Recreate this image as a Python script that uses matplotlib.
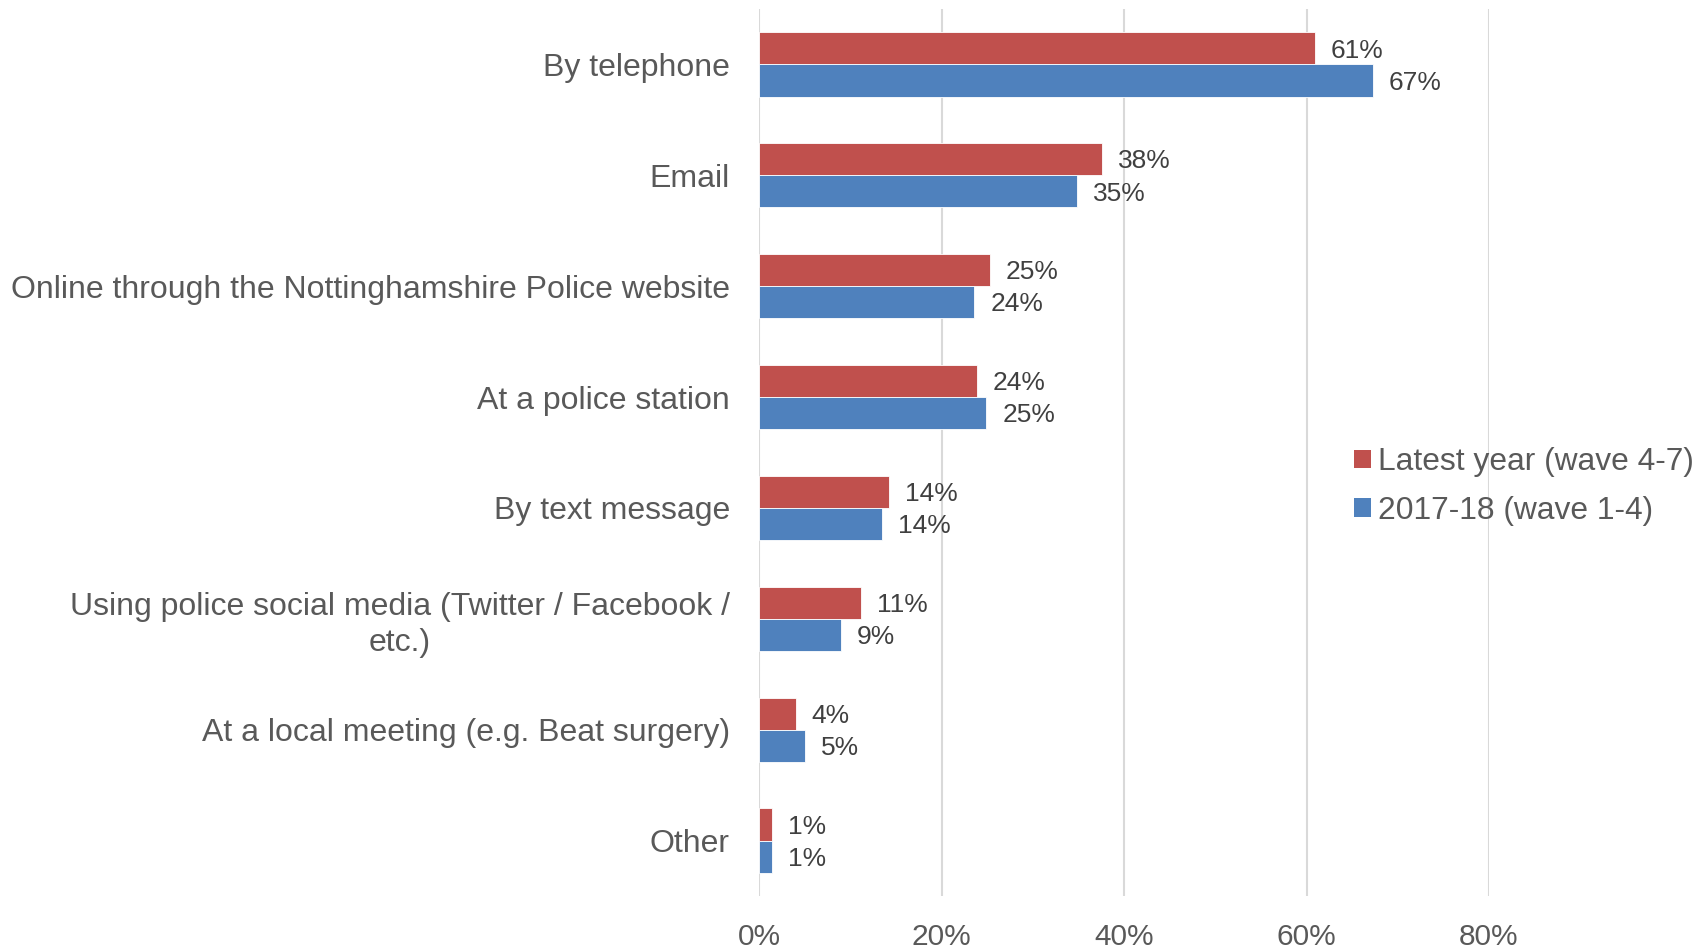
import matplotlib
matplotlib.use('Agg')
import matplotlib.pyplot as plt
import matplotlib.ticker as ticker
import matplotlib.transforms as mtransforms
from matplotlib.patches import Patch
import numpy as np

plt.rcParams['font.family'] = ['Liberation Sans', 'DejaVu Sans']

# data (top to bottom)
categories = ['By telephone', 'Email', 'Online through the Nottinghamshire Police website',
              'At a police station', 'By text message',
              'Using police social media (Twitter / Facebook /\netc.)',
              'At a local meeting (e.g. Beat surgery)', 'Other']
latest = [60.9, 37.6, 25.3, 23.9, 14.2, 11.2, 4.0, 1.4]
latest_labels = ['61%', '38%', '25%', '24%', '14%', '11%', '4%', '1%']
base = [67.3, 34.8, 23.6, 24.9, 13.5, 9.0, 5.0, 1.4]
base_labels = ['67%', '35%', '24%', '25%', '14%', '9%', '5%', '1%']
series_names = ['Latest year (wave 4-7)', '2017-18 (wave 1-4)']
xticks = [0, 20, 40, 60, 80]

red = '#C0504D'
blue = '#4F81BD'
grey = '#595959'

fig = plt.figure(figsize=(16.98, 9.5), dpi=100)
ax = fig.add_axes([759/1698, 1-896/950, (1489-759)/1698, (896-9)/950])

y = np.arange(len(categories))
h = 0.29
ax.barh(y - h/2, latest, height=h, color=red, edgecolor='white', linewidth=0.6, zorder=3)
ax.barh(y + h/2, base, height=h, color=blue, edgecolor='white', linewidth=0.6, zorder=3)

# data labels
off = 16 / (730/80)  # ~16px in data units
for i in range(len(categories)):
    ax.text(latest[i] + off, y[i] - h/2 + 0.02, latest_labels[i], va='center', ha='left',
            fontsize=19, color='#404040')
    ax.text(base[i] + off, y[i] + h/2 + 0.02, base_labels[i], va='center', ha='left',
            fontsize=19, color='#404040')

ax.set_xlim(0, 80)
ax.set_ylim(len(categories) - 0.5, -0.5)
ax.set_xticks(xticks)
ax.xaxis.set_major_formatter(ticker.FuncFormatter(lambda v, p: '%d%%' % v))
ax.set_yticks(y)
ax.set_yticklabels(categories, multialignment='center', linespacing=1.25)
shift = mtransforms.ScaledTranslation(0, 2/100, fig.dpi_scale_trans)
for lab in ax.get_yticklabels():
    lab.set_transform(lab.get_transform() + shift)
ax.tick_params(axis='x', length=0, pad=19.5, labelsize=21.5, labelcolor=grey)
ax.tick_params(axis='y', length=0, pad=21, labelsize=23, labelcolor=grey)

ax.grid(axis='x', color='#D9D9D9', linewidth=1.5, zorder=0)
ax.set_axisbelow(True)
for s in ax.spines.values():
    s.set_visible(False)

handles = [Patch(facecolor=red), Patch(facecolor=blue)]
fig.legend(handles, series_names, loc='center left',
           bbox_to_anchor=(1354/1698, 1-486.7/950), frameon=False,
           fontsize=22.9, labelcolor=grey, borderpad=0, borderaxespad=0,
           handlelength=0.52, handleheight=0.52, handletextpad=0.22,
           labelspacing=0.58)

plt.savefig('out.png', dpi=100)
